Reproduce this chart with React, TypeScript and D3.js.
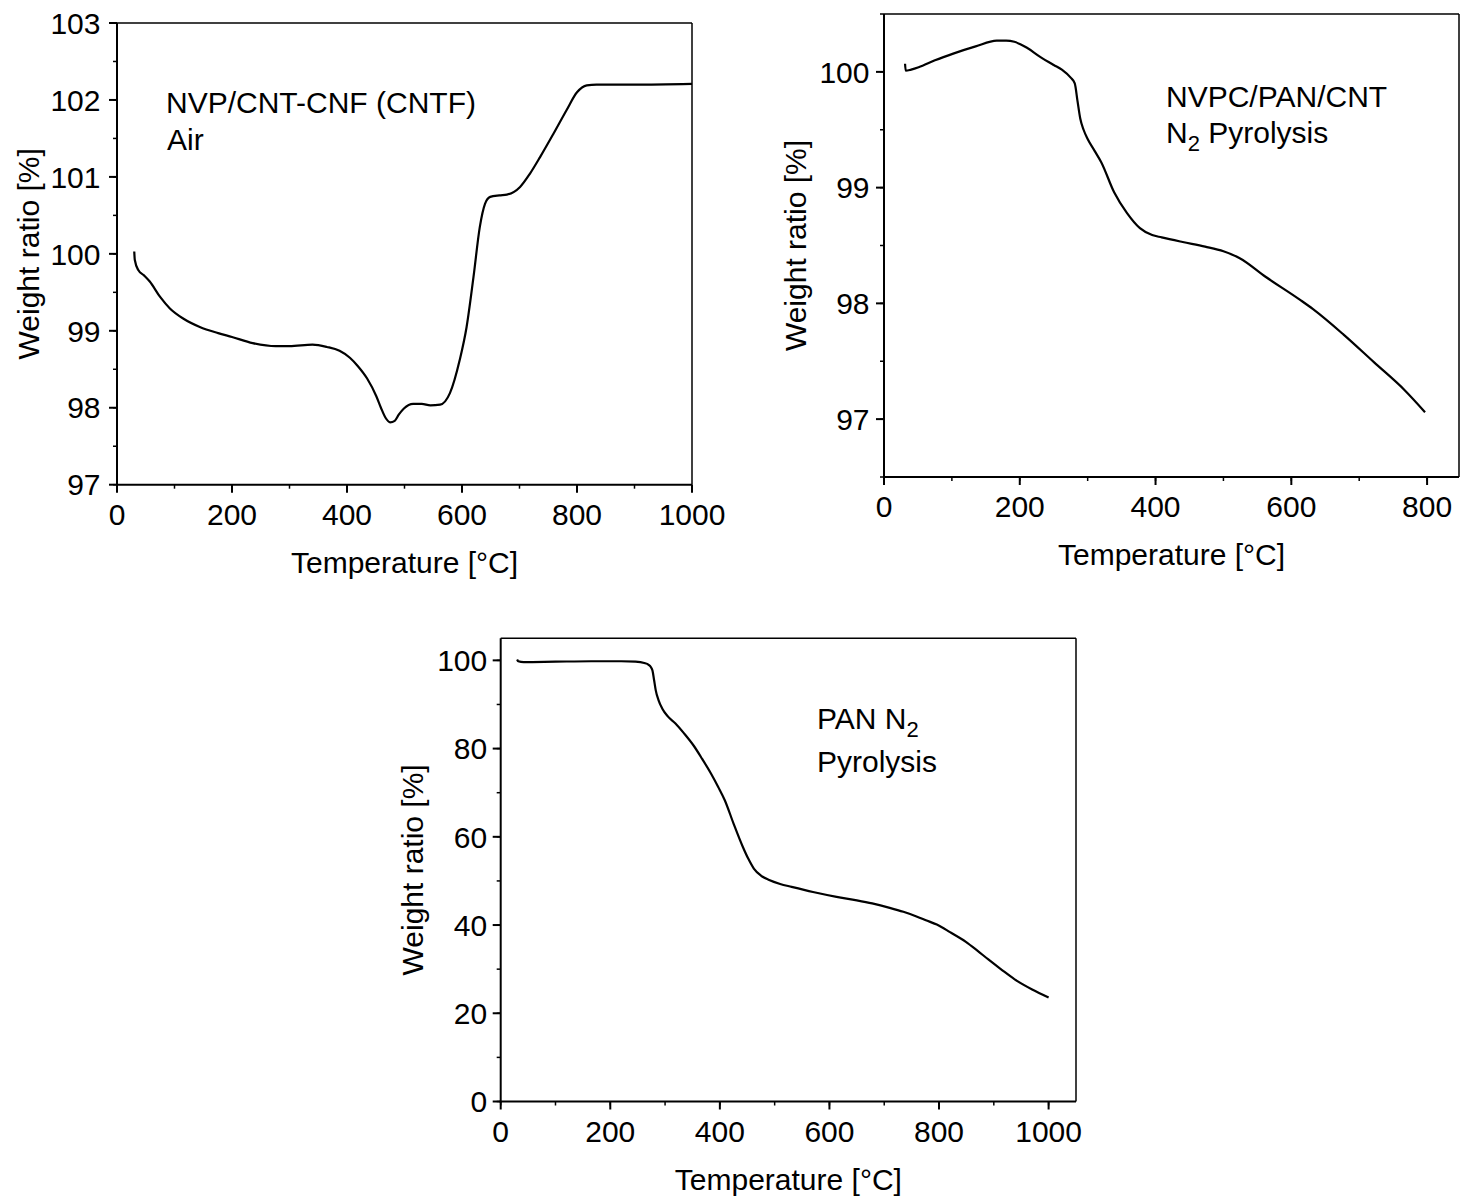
import React from "react";
import * as d3 from "d3";

// ---------- Data ----------
// Panel 1: NVP/CNT-CNF (CNTF), Air
const airTemp = [30, 31, 37, 47, 57, 75, 92, 115, 144, 176, 200, 236, 276, 300, 340, 365, 387, 405, 419, 435, 451, 459, 467, 475, 483, 490, 499, 515, 530, 545, 562, 579, 596, 608, 620, 631, 640, 649, 665, 678, 701, 718, 736, 759, 782, 800, 817, 834, 900, 1000];
const airWeight = [100.03, 99.92, 99.79, 99.72, 99.64, 99.44, 99.29, 99.16, 99.05, 98.97, 98.92, 98.84, 98.8, 98.8, 98.82, 98.79, 98.74, 98.65, 98.54, 98.38, 98.15, 98.0, 97.87, 97.81, 97.83, 97.91, 97.99, 98.05, 98.05, 98.03, 98.04, 98.19, 98.62, 99.05, 99.7, 100.35, 100.65, 100.74, 100.76, 100.77, 100.87, 101.04, 101.26, 101.56, 101.87, 102.1, 102.19, 102.2, 102.2, 102.21];

// Panel 2: NVPC/PAN/CNT, N2 pyrolysis
const nvpcTemp = [31, 32, 40, 51, 75, 103, 135, 166, 180, 192, 210, 230, 250, 262, 275, 281, 285, 289, 294, 300, 310, 320, 339, 358, 377, 395, 409, 440, 473, 500, 524, 562, 613, 632, 677, 722, 767, 797];
const nvpcWeight = [100.07, 100.01, 100.02, 100.04, 100.1, 100.16, 100.22, 100.27, 100.27, 100.26, 100.21, 100.13, 100.06, 100.02, 99.95, 99.9, 99.75, 99.6, 99.5, 99.42, 99.32, 99.22, 98.96, 98.78, 98.65, 98.59, 98.57, 98.53, 98.49, 98.45, 98.39, 98.23, 98.03, 97.95, 97.73, 97.49, 97.25, 97.06];

// Panel 3: PAN, N2 pyrolysis
const panTemp = [30, 32, 42, 100, 165, 220, 246, 262, 270, 274, 277, 280, 283, 288, 295, 305, 319, 335, 352, 368, 384, 397, 409, 425, 442, 452, 462, 475, 490, 510, 531, 570, 613, 650, 678, 710, 735, 760, 776, 796, 820, 849, 870, 890, 915, 938, 970, 1000];
const panWeight = [100.2, 99.8, 99.6, 99.7, 99.8, 99.8, 99.7, 99.4, 99.0, 98.5, 97.7, 95.5, 93.2, 91.0, 89.05, 87.3, 85.7, 83.4, 80.7, 77.6, 74.3, 71.3, 68.3, 63.0, 57.7, 55.0, 52.8, 51.2, 50.2, 49.3, 48.65, 47.5, 46.4, 45.6, 44.9, 43.9, 43.0, 41.9, 41.1, 40.1, 38.4, 36.2, 34.2, 32.2, 29.8, 27.7, 25.4, 23.6];

// Tick labels
const p1XTicks = [0, 200, 400, 600, 800, 1000];
const p1YTicks = [97, 98, 99, 100, 101, 102, 103];
const p2XTicks = [0, 200, 400, 600, 800];
const p2YTicks = [97, 98, 99, 100];
const p3XTicks = [0, 200, 400, 600, 800, 1000];
const p3YTicks = [0, 20, 40, 60, 80, 100];

const xTitle = "Temperature [°C]";
const yTitle = "Weight ratio [%]";

const FONT = "'Liberation Sans', Arial, Helvetica, sans-serif";

type PanelProps = {
  left: number; right: number; top: number; bottom: number;
  xDomain: [number, number]; yDomain: [number, number];
  xTicks: number[]; yTicks: number[];
  xMinor: number[]; yMinor: number[];
  temps: number[]; weights: number[];
  labelGap: number;
  children?: React.ReactNode;
};

function Panel(p: PanelProps) {
  const x = d3.scaleLinear().domain(p.xDomain).range([p.left, p.right]);
  const y = d3.scaleLinear().domain(p.yDomain).range([p.bottom, p.top]);
  const pts = p.temps.map((t, i) => [t, p.weights[i]] as [number, number]);
  const line = d3.line<[number, number]>()
    .x(d => x(d[0]))
    .y(d => y(d[1]))
    .curve(d3.curveMonotoneX);
  const cx = (p.left + p.right) / 2;
  const cy = (p.top + p.bottom) / 2;
  return (
    <g>
      <path d={line(pts) || ""} fill="none" stroke="#000" strokeWidth={2.2} strokeLinejoin="round" />
      <line x1={p.left} x2={p.right} y1={p.top} y2={p.top} stroke="#000" strokeWidth={1.5} />
      <line x1={p.right} x2={p.right} y1={p.top} y2={p.bottom} stroke="#000" strokeWidth={1.5} />
      <line x1={p.left} x2={p.left} y1={p.top} y2={p.bottom + 1} stroke="#000" strokeWidth={2} />
      <line x1={p.left - 1} x2={p.right} y1={p.bottom} y2={p.bottom} stroke="#000" strokeWidth={2} />
      {p.xMinor.map(v => (
        <line key={"xm" + v} x1={x(v)} x2={x(v)} y1={p.bottom} y2={p.bottom + 4} stroke="#000" strokeWidth={1.5} />
      ))}
      {p.yMinor.map(v => (
        <line key={"ym" + v} x1={p.left - 4} x2={p.left} y1={y(v)} y2={y(v)} stroke="#000" strokeWidth={1.5} />
      ))}
      {p.xTicks.map(v => (
        <g key={"x" + v}>
          <line x1={x(v)} x2={x(v)} y1={p.bottom} y2={p.bottom + 8} stroke="#000" strokeWidth={2} />
          <text x={x(v)} y={p.bottom + 40} textAnchor="middle" fontSize={30} fontFamily={FONT}>{v}</text>
        </g>
      ))}
      {p.yTicks.map(v => (
        <g key={"y" + v}>
          <line x1={p.left - 8} x2={p.left} y1={y(v)} y2={y(v)} stroke="#000" strokeWidth={2} />
          <text x={p.left - p.labelGap} y={y(v) + 10.7} textAnchor="end" fontSize={30} fontFamily={FONT}>{v}</text>
        </g>
      ))}
      <text x={cx} y={p.bottom + 88} textAnchor="middle" fontSize={30} fontFamily={FONT}>{xTitle}</text>
      <text transform={`translate(${p.left - 78},${cy}) rotate(-90)`} textAnchor="middle" fontSize={30} fontFamily={FONT}>{yTitle}</text>
      {p.children}
    </g>
  );
}

const range = (a: number, b: number, s: number) => d3.range(a, b + s / 2, s);

export default function App() {
  return (
    <svg width={1461} height={1198} style={{ position: "absolute", left: 0, top: 0, display: "block", background: "#fff" }}>
      <rect width={1461} height={1198} fill="#fff" />
      <Panel left={117} right={692} top={23} bottom={484.7}
        xDomain={[0, 1000]} yDomain={[97, 103]}
        xTicks={p1XTicks} yTicks={p1YTicks}
        xMinor={range(0, 1000, 100)} yMinor={range(97, 103, 0.5)}
        temps={airTemp} weights={airWeight} labelGap={16.5}>
        <text x={166} y={113} fontSize={30} fontFamily={FONT}>NVP/CNT-CNF (CNTF)</text>
        <text x={167} y={150} fontSize={30} fontFamily={FONT}>Air</text>
      </Panel>
      <Panel left={884} right={1459} top={14} bottom={477}
        xDomain={[0, 847]} yDomain={[96.5, 100.5]}
        xTicks={p2XTicks} yTicks={p2YTicks}
        xMinor={range(0, 800, 100)} yMinor={range(96.5, 100.5, 0.5)}
        temps={nvpcTemp} weights={nvpcWeight} labelGap={14.5}>
        <text x={1166} y={106.7} fontSize={30} fontFamily={FONT}>NVPC/PAN/CNT</text>
        <text x={1166} y={143.3} fontSize={30} fontFamily={FONT}>
          <tspan>N</tspan>
          <tspan dy={8} fontSize={22}>2</tspan>
          <tspan dy={-8}> Pyrolysis</tspan>
        </text>
      </Panel>
      <Panel left={500.7} right={1076} top={638.3} bottom={1101.5}
        xDomain={[0, 1050]} yDomain={[0, 105]}
        xTicks={p3XTicks} yTicks={p3YTicks}
        xMinor={range(0, 1000, 100)} yMinor={range(0, 100, 10)}
        temps={panTemp} weights={panWeight} labelGap={13.5}>
        <text x={817} y={729.3} fontSize={30} fontFamily={FONT}>
          <tspan>PAN N</tspan>
          <tspan dy={8} fontSize={22}>2</tspan>
        </text>
        <text x={817} y={771.7} fontSize={30} fontFamily={FONT}>Pyrolysis</text>
      </Panel>
    </svg>
  );
}
